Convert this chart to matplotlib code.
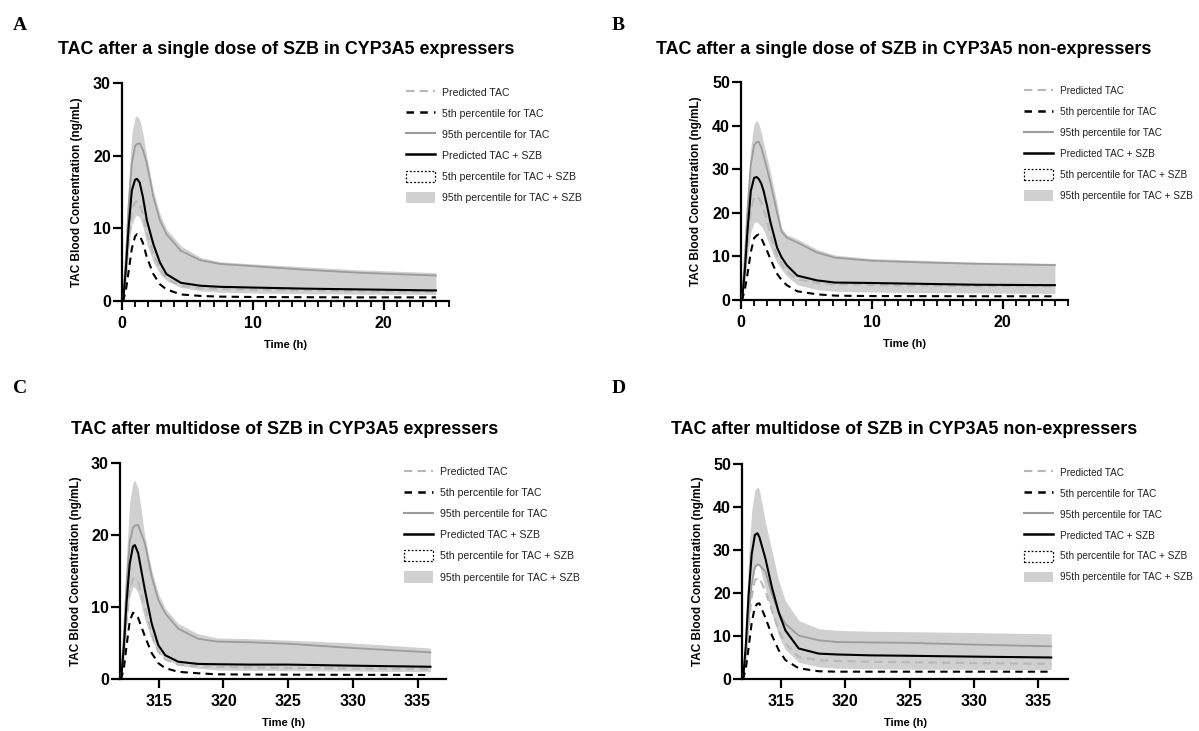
import matplotlib
matplotlib.use("Agg")
import matplotlib.pyplot as plt
from matplotlib.lines import Line2D
from matplotlib.patches import Patch
from matplotlib.ticker import MultipleLocator

plt.rcParams['font.family'] = ['Liberation Sans', 'DejaVu Sans']

# ---------------- data ----------------
# Panel A: single dose, CYP3A5 expressers
A_time = [0, 0.1, 0.3, 0.5, 0.75, 1.0, 1.15, 1.35, 1.6, 1.9, 2.4, 2.9, 3.4, 4.5, 6, 7.5, 10, 14, 18, 24]
A_pred_szb = [0, 0.3, 4.5, 10, 15.2, 16.7, 16.8, 16.3, 14.3, 11.1, 7.8, 5.3, 3.7, 2.5, 2.1, 1.95, 1.85, 1.7, 1.6, 1.45]
A_p95_szb = [0, 0.6, 8, 16, 23, 25.3, 25.5, 25, 23, 19.8, 15.2, 12.0, 9.9, 7.6, 6.0, 5.4, 5.1, 4.7, 4.3, 3.9]
A_p05_szb = [0, 0.2, 3, 7, 10.5, 11.6, 11.8, 11.5, 10.2, 7.8, 5.3, 3.7, 2.8, 1.85, 1.4, 1.2, 1.1, 1.0, 0.95, 0.9]
A_pred = [0, 0.25, 3.5, 8, 12.5, 13.6, 13.7, 13.4, 12, 9.3, 6.5, 4.4, 3.1, 2.1, 1.75, 1.65, 1.55, 1.45, 1.35, 1.25]
A_p95 = [0, 0.5, 6, 13, 19, 21.3, 21.6, 21.7, 20.8, 18.9, 14.3, 11.1, 9.2, 6.9, 5.6, 5.1, 4.8, 4.3, 3.9, 3.5]
A_p05 = [0, 0.1, 1.5, 4.0, 7.2, 8.9, 9.2, 9.0, 8.0, 6.0, 3.7, 2.3, 1.6, 0.9, 0.7, 0.6, 0.55, 0.52, 0.5, 0.5]

# Panel B: single dose, CYP3A5 non-expressers
B_time = [0, 0.1, 0.3, 0.5, 0.75, 1.0, 1.2, 1.35, 1.55, 1.73, 2.0, 2.24, 2.5, 2.76, 3.1, 3.5, 4.3, 5.8, 7.2, 10, 14, 18, 24]
B_pred_szb = [0, 0.5, 7, 16, 25, 28, 28.2, 27.8, 26.7, 25, 21.5, 18, 15, 12, 9.8, 8.0, 5.6, 4.5, 4.0, 3.9, 3.7, 3.5, 3.4]
B_p95_szb = [0, 1, 12, 24, 35, 40.5, 41.2, 40.5, 38.5, 35.9, 32.5, 29.4, 25.8, 22, 16.5, 15.0, 14.0, 11.6, 10.3, 9.5, 9.1, 8.7, 8.4]
B_p05_szb = [0, 0.3, 5, 10, 15.5, 17.8, 17.9, 17.5, 16.9, 16, 14, 12, 10.2, 8.5, 7.0, 5.5, 3.5, 2.4, 2.0, 1.8, 1.7, 1.6, 1.5]
B_pred = [0, 0.4, 6, 13, 20.5, 23.5, 23.7, 23.4, 22.4, 21, 18, 15, 12.4, 10, 8.2, 6.5, 4.8, 3.9, 3.6, 3.45, 3.3, 3.2, 3.15]
B_p95 = [0, 0.8, 10, 21, 31, 35.5, 36.2, 36.3, 35, 33, 30, 27, 23.5, 20, 15.7, 14.3, 13.2, 10.9, 9.7, 9.0, 8.6, 8.3, 8.0]
B_p05 = [0, 0.2, 2.5, 6, 11, 14.2, 14.8, 15.0, 14.2, 13.0, 11.2, 9.5, 7.7, 6.0, 4.6, 3.4, 2.0, 1.3, 1.0, 0.9, 0.88, 0.86, 0.85]

# Panel C: multidose, CYP3A5 expressers
C_time = [312, 312.1, 312.3, 312.5, 312.75, 313.0, 313.15, 313.4, 313.93, 314.45, 314.96, 315.5, 316.5, 318, 319.5, 322, 325, 330, 336]
C_pred_szb = [0, 0.3, 4.5, 10.5, 16, 18.4, 18.6, 17.5, 12.3, 7.7, 4.7, 3.3, 2.4, 2.1, 2.05, 2.0, 2.0, 1.85, 1.7]
C_p95_szb = [0, 0.6, 8, 17, 24.5, 27.3, 27.6, 26.5, 19.7, 15.1, 11.9, 9.8, 7.7, 6.3, 5.7, 5.6, 5.4, 5.0, 4.3]
C_p05_szb = [0, 0.2, 3, 7.5, 11.5, 12.8, 12.7, 12, 8.2, 5.4, 3.6, 2.9, 1.9, 1.5, 1.25, 1.2, 1.15, 1.1, 1.0]
C_pred = [0, 0.25, 3.5, 8, 12.5, 13.9, 14.0, 13.5, 10.0, 6.2, 3.8, 2.7, 2.0, 1.8, 1.7, 1.6, 1.55, 1.45, 1.35]
C_p95 = [0, 0.5, 6, 13, 19, 21.0, 21.3, 21.4, 18.8, 14.2, 11.0, 9.1, 7.0, 5.6, 5.2, 5.1, 4.9, 4.3, 3.7]
C_p05 = [0, 0.1, 1.5, 4.5, 8, 9.2, 9.1, 8.5, 5.9, 3.6, 2.2, 1.5, 1.0, 0.8, 0.65, 0.62, 0.6, 0.58, 0.56]

# Panel D: multidose, CYP3A5 non-expressers
D_time = [312, 312.1, 312.3, 312.5, 312.75, 313.0, 313.2, 313.35, 313.81, 314.33, 314.85, 315.37, 316.4, 317.96, 319.4, 322, 325, 330, 336]
D_pred_szb = [0, 0.5, 8, 19, 29, 33.5, 33.9, 33.0, 28.1, 21.2, 15.5, 11.3, 7.1, 5.9, 5.7, 5.5, 5.4, 5.2, 5.0]
D_p95_szb = [0, 1, 14, 28, 39, 44, 44.6, 44.0, 36.6, 29.7, 22.8, 18.2, 13.6, 11.7, 11.3, 11.1, 11.0, 10.8, 10.5]
D_p05_szb = [0, 0.4, 6, 14, 22, 26, 26.5, 26.3, 21, 15, 10, 6.8, 3.9, 2.8, 2.5, 2.4, 2.3, 2.25, 2.2]
D_pred = [0, 0.3, 5, 12, 19, 23, 23.4, 23.5, 20.5, 15.9, 11.3, 8.2, 5.1, 4.4, 4.2, 4.0, 3.9, 3.7, 3.5]
D_p95 = [0, 0.4, 6, 14, 22, 26, 26.6, 26.5, 25, 19.7, 15.5, 12.8, 10.1, 9.0, 8.6, 8.5, 8.4, 8.0, 7.6]
D_p05 = [0, 0.2, 2.5, 7, 13, 16.8, 17.5, 17.6, 14.3, 10.1, 6.7, 4.4, 2.5, 1.8, 1.7, 1.7, 1.7, 1.7, 1.7]

titles = ["TAC after a single dose of SZB in CYP3A5 expressers",
          "TAC after a single dose of SZB in CYP3A5 non-expressers",
          "TAC after multidose of SZB in CYP3A5 expressers",
          "TAC after multidose of SZB in CYP3A5 non-expressers"]
letters = ["A", "B", "C", "D"]
legend_labels = ["Predicted TAC", "5th percentile for TAC", "95th percentile for TAC",
                 "Predicted TAC + SZB", "5th percentile for TAC + SZB", "95th percentile for TAC + SZB"]
xlabel = "Time (h)"
ylabel = "TAC Blood Concentration (ng/mL)"

# ---------------- style ----------------
BAND = '#d0d0d0'
GRAY95 = '#9c9c9c'
LIGHT = '#b8b8b8'

W, H = 1199, 731
fig = plt.figure(figsize=(W / 100, H / 100), dpi=100)

def px_axes(l, t, r, b):
    return fig.add_axes([l / W, 1 - b / H, (r - l) / W, (b - t) / H])

panels = [
    dict(ax=px_axes(122, 83, 449, 301), t=A_time, d=(A_pred, A_p05, A_p95, A_pred_szb, A_p05_szb, A_p95_szb),
         xlim=(0, 25), ylim=(0, 30), yt=[0, 10, 20, 30], xt=[0, 10, 20], minor=True,
         title=(58, 49), letter=(13, 25), leg=(0.868, 0.984), lfs=7.6),
    dict(ax=px_axes(741, 82, 1068, 300), t=B_time, d=(B_pred, B_p05, B_p95, B_pred_szb, B_p05_szb, B_p95_szb),
         xlim=(0, 25), ylim=(0, 50), yt=[0, 10, 20, 30, 40, 50], xt=[0, 10, 20], minor=True,
         title=(656, 49), letter=(612, 25), leg=(0.864, 0.984), lfs=7.2),
    dict(ax=px_axes(120, 463, 446, 679), t=C_time, d=(C_pred, C_p05, C_p95, C_pred_szb, C_p05_szb, C_p95_szb),
         xlim=(312, 337.2), ylim=(0, 30), yt=[0, 10, 20, 30], xt=[315, 320, 325, 330, 335], minor=False,
         title=(71, 430), letter=(13, 388), leg=(0.871, 0.986), lfs=7.6),
    dict(ax=px_axes(742, 464, 1068, 679), t=D_time, d=(D_pred, D_p05, D_p95, D_pred_szb, D_p05_szb, D_p95_szb),
         xlim=(312, 337.3), ylim=(0, 50), yt=[0, 10, 20, 30, 40, 50], xt=[315, 320, 325, 330, 335], minor=False,
         title=(671, 430), letter=(612, 388), leg=(0.866, 0.986), lfs=7.2),
]

for i, p in enumerate(panels):
    ax = p['ax']
    t = p['t']
    pred, p05, p95, pred_szb, p05_szb, p95_szb = p['d']
    ax.fill_between(t, p05_szb, p95_szb, color=BAND, lw=0, zorder=1)
    ax.plot(t, p95, color=GRAY95, lw=1.3, zorder=2)
    ax.plot(t, pred, color=LIGHT, lw=1.5, dashes=(4, 2.5), zorder=3)
    ax.plot(t, p05, color='black', lw=1.5, dashes=(3.5, 2.5), zorder=4)
    ax.plot(t, pred_szb, color='black', lw=1.5, zorder=5)

    ax.set_xlim(*p['xlim'])
    ax.set_ylim(*p['ylim'])
    ax.set_xticks(p['xt'])
    ax.set_yticks(p['yt'])
    if p['minor']:
        ax.xaxis.set_minor_locator(MultipleLocator(1))
    for s in ['top', 'right']:
        ax.spines[s].set_visible(False)
    for s in ['left', 'bottom']:
        ax.spines[s].set_linewidth(1.6)
    ax.tick_params(axis='both', which='major', direction='out', length=6.5, width=1.6, pad=1.5,
                   labelsize=11.5)
    ax.tick_params(axis='x', which='minor', direction='out', length=4, width=1.3)
    ax.tick_params(axis='x', which='major', pad=4)
    for lab in ax.get_xticklabels() + ax.get_yticklabels():
        lab.set_fontweight('bold')
    ax.set_xlabel(xlabel, fontsize=8, fontweight='bold')
    ax.set_ylabel(ylabel, fontsize=8.5, fontweight='bold')
    ax.xaxis.set_label_coords(0.5, -0.18)
    ax.yaxis.set_label_coords(-0.118, 0.5)

    handles = [
        Line2D([], [], color=LIGHT, lw=1.5, dashes=(4, 2.5)),
        Line2D([], [], color='black', lw=1.8, dashes=(3, 2.5)),
        Line2D([], [], color=GRAY95, lw=1.5),
        Line2D([], [], color='black', lw=1.8),
        Patch(facecolor='white', edgecolor='black', linestyle=(0, (1.5, 1.5)), lw=0.9),
        Patch(facecolor=BAND, edgecolor='none'),
    ]
    lfs = p['lfs']
    k = 7.6 / lfs
    ax.legend(handles, legend_labels, loc='upper left', bbox_to_anchor=p['leg'],
              frameon=False, fontsize=lfs, labelcolor='#222222', handlelength=2.75 * k,
              handleheight=1.23 * k, labelspacing=0.95 * k, handletextpad=0.66 * k,
              borderaxespad=0, borderpad=0)

    fig.text(p['title'][0] / W, 1 - p['title'][1] / H, titles[i], fontsize=12.9,
             fontweight='bold', ha='left', va='center')
    fig.text(p['letter'][0] / W, 1 - p['letter'][1] / H, letters[i], fontsize=14,
             fontweight='bold', family='Liberation Serif', ha='left', va='center')

fig.savefig('out.png', dpi=100)
